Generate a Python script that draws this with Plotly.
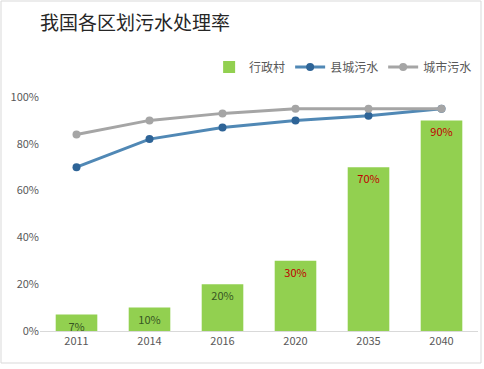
import plotly.graph_objects as go

years = ["2011", "2014", "2016", "2020", "2035", "2040"]
village = [0.07, 0.10, 0.20, 0.30, 0.70, 0.90]
county = [0.70, 0.82, 0.87, 0.90, 0.92, 0.95]
city = [0.84, 0.90, 0.93, 0.95, 0.95, 0.95]
bar_labels = ["7%", "10%", "20%", "30%", "70%", "90%"]
label_colors = ["#375623", "#375623", "#375623", "#C00000", "#C00000", "#C00000"]

font_family = "Noto Sans CJK SC, Noto Sans, sans-serif"

fig = go.Figure()
fig.add_trace(go.Bar(
    x=years, y=village, name="行政村",
    marker=dict(color="#92D050", line=dict(width=0)),
    width=0.57,
    text=bar_labels, textposition="inside", insidetextanchor="end",
    textfont=dict(color=label_colors, size=11, family=font_family),
    constraintext="none",
))
fig.add_trace(go.Scatter(
    x=years, y=county, name="县城污水", mode="lines+markers",
    line=dict(color="#5088B5", width=3),
    marker=dict(color="#2E6497", size=8),
))
fig.add_trace(go.Scatter(
    x=years, y=city, name="城市污水", mode="lines+markers",
    line=dict(color="#A5A5A5", width=3),
    marker=dict(color="#A5A5A5", size=8),
))

fig.update_layout(
    width=484, height=369,
    margin=dict(l=40, r=6, t=97, b=38),
    paper_bgcolor="white", plot_bgcolor="white",
    font=dict(family=font_family, color="#595959", size=11),
    title=dict(text="我国各区划污水处理率", x=40/484, xanchor="left",
               y=1 - 23/369, yanchor="middle",
               font=dict(size=19, color="#262626", family=font_family)),
    legend=dict(orientation="h", x=0.998, xanchor="right", y=1 - 67/369, yanchor="middle",
                yref="container", font=dict(size=12, color="#595959"),
                bgcolor="rgba(0,0,0,0)", itemwidth=30, tracegroupgap=0),
    bargap=0.43,
    showlegend=True,
    shapes=[dict(type="rect", xref="paper", yref="paper",
                 x0=-39/438, x1=(481-40)/438, y0=-(363-331)/234, y1=(331-1)/234,
                 line=dict(color="#D9D9D9", width=1), fillcolor="rgba(0,0,0,0)", layer="below")],
)
fig.update_xaxes(showline=True, linecolor="#D9D9D9", linewidth=1, ticks="",
                 tickfont=dict(size=11, color="#595959"), showgrid=False)
fig.update_yaxes(range=[0, 1.0], tickvals=[0, 0.2, 0.4, 0.6, 0.8, 1.0], tickformat=".0%",
                 showgrid=False, zeroline=False, showline=False, ticks="",
                 tickfont=dict(size=11, color="#595959"))

fig.write_html("out.html", config={"displayModeBar": False},
               post_script="document.body.style.margin='0';document.body.style.overflow='hidden';")
